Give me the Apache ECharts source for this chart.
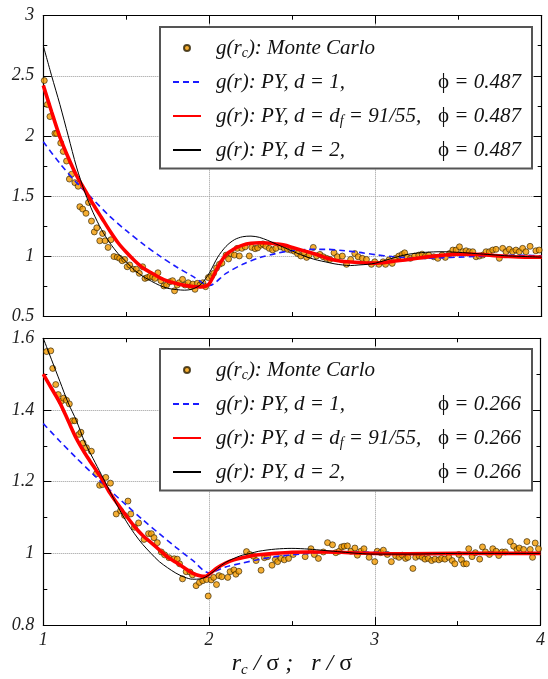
<!DOCTYPE html>
<html><head><meta charset="utf-8">
<script src="https://cdn.jsdelivr.net/npm/echarts@6/dist/echarts.min.js"></script>
<style>html,body{margin:0;padding:0;background:#fff}#c{width:548px;height:679px}</style>
</head><body><div id="c"></div>
<script>
// ---------------- DATA ----------------
// Top panel (phi = 0.487)
const topMC = [[1.006,2.46],[1.024,2.26],[1.04,2.16],[1.07,2.02],[1.08,2.02],[1.105,1.94],[1.12,1.87],[1.14,1.79],[1.157,1.64],[1.17,1.68],[1.19,1.61],[1.21,1.58],[1.22,1.41],[1.237,1.39],[1.257,1.355],[1.272,1.445],[1.29,1.29],[1.307,1.2],[1.322,1.234],[1.34,1.126],[1.357,1.187],[1.372,1.126],[1.39,1.071],[1.407,1.135],[1.425,0.995],[1.445,0.99],[1.46,0.98],[1.475,0.96],[1.49,0.97],[1.505,0.91],[1.52,0.925],[1.54,0.89],[1.56,0.89],[1.578,0.855],[1.598,0.91],[1.612,0.813],[1.626,0.82],[1.642,0.83],[1.658,0.825],[1.672,0.813],[1.69,0.86],[1.708,0.794],[1.726,0.75],[1.742,0.758],[1.762,0.785],[1.778,0.794],[1.79,0.71],[1.806,0.758],[1.818,0.777],[1.838,0.805],[1.853,0.758],[1.872,0.777],[1.887,0.744],[1.9,0.766],[1.913,0.722],[1.927,0.772],[1.943,0.758],[1.96,0.777],[1.977,0.744],[1.993,0.82],[2.013,0.83],[2.025,0.855],[2.043,0.9],[2.06,0.93],[2.075,0.94],[2.1,1.007],[2.115,0.975],[2.13,1.02],[2.15,1.007],[2.167,1.063],[2.18,1.0],[2.195,1.063],[2.215,1.076],[2.24,1.0],[2.255,1.071],[2.275,1.06],[2.29,1.067],[2.31,1.09],[2.322,1.1],[2.34,1.08],[2.36,1.063],[2.38,1.05],[2.4,1.063],[2.43,1.076],[2.45,1.063],[2.47,1.055],[2.49,1.049],[2.51,1.04],[2.53,1.02],[2.55,1.0],[2.57,1.026],[2.585,0.988],[2.6,1.007],[2.625,1.071],[2.645,1.0],[2.665,1.013],[2.685,0.993],[2.705,0.98],[2.725,0.971],[2.75,1.026],[2.77,0.993],[2.8,0.999],[2.825,0.93],[2.85,0.971],[2.875,1.02],[2.895,0.993],[2.92,0.98],[2.945,0.971],[2.975,0.93],[2.995,0.951],[3.02,0.93],[3.045,0.951],[3.06,0.93],[3.08,0.966],[3.1,0.938],[3.12,0.98],[3.14,0.999],[3.16,1.013],[3.175,1.026],[3.19,0.988],[3.21,0.98],[3.235,0.999],[3.26,1.007],[3.28,1.015],[3.3,0.999],[3.32,1.007],[3.35,0.993],[3.375,0.98],[3.4,1.007],[3.42,0.988],[3.445,1.02],[3.465,1.049],[3.485,1.049],[3.505,1.076],[3.525,1.035],[3.545,1.043],[3.565,1.035],[3.585,1.035],[3.605,0.993],[3.625,0.999],[3.645,1.007],[3.665,1.035],[3.685,1.035],[3.705,1.049],[3.725,1.055],[3.745,0.98],[3.765,1.063],[3.785,1.035],[3.805,1.055],[3.825,1.035],[3.845,1.049],[3.865,1.035],[3.885,1.063],[3.905,1.035],[3.93,1.08],[3.965,1.043],[3.985,1.049]];
const topPY1 = [[1.0,1.95],[1.1,1.77],[1.2,1.61],[1.3,1.47],[1.4,1.33],[1.5,1.21],[1.6,1.10],[1.7,1.00],[1.8,0.91],[1.9,0.83],[2.0,0.755],[2.1,0.855],[2.2,0.93],[2.3,0.985],[2.4,1.02],[2.5,1.045],[2.6,1.055],[2.7,1.055],[2.8,1.045],[2.9,1.03],[3.0,1.01],[3.1,0.995],[3.2,0.985],[3.3,0.98],[3.4,0.985],[3.5,0.99],[3.6,0.995],[3.7,1.0],[3.8,1.005],[3.9,1.005],[4.0,1.0]];
const topPYf = [[1.0,2.42],[1.05,2.2],[1.1,1.99],[1.15,1.82],[1.2,1.67],[1.25,1.55],[1.3,1.43],[1.35,1.32],[1.4,1.21],[1.45,1.11],[1.5,1.03],[1.55,0.96],[1.6,0.9],[1.65,0.86],[1.7,0.82],[1.75,0.79],[1.8,0.77],[1.85,0.755],[1.9,0.745],[1.95,0.742],[1.98,0.75],[2.0,0.77],[2.03,0.85],[2.06,0.93],[2.1,1.01],[2.15,1.06],[2.2,1.09],[2.25,1.105],[2.3,1.11],[2.35,1.108],[2.4,1.1],[2.45,1.09],[2.5,1.07],[2.55,1.05],[2.6,1.03],[2.65,1.01],[2.7,0.985],[2.75,0.967],[2.8,0.955],[2.85,0.95],[2.9,0.945],[2.95,0.94],[3.0,0.94],[3.05,0.945],[3.1,0.955],[3.2,0.97],[3.3,0.99],[3.4,1.005],[3.5,1.015],[3.6,1.013],[3.7,1.005],[3.8,0.995],[3.9,0.99],[4.0,0.99]];
const topPY2 = [[1.0,2.75],[1.05,2.5],[1.1,2.26],[1.15,2.0],[1.2,1.74],[1.25,1.53],[1.3,1.36],[1.35,1.22],[1.4,1.11],[1.45,1.02],[1.5,0.95],[1.55,0.88],[1.6,0.83],[1.65,0.79],[1.7,0.755],[1.75,0.73],[1.8,0.72],[1.85,0.715],[1.9,0.725],[1.95,0.765],[2.0,0.86],[2.05,0.99],[2.1,1.08],[2.15,1.135],[2.2,1.16],[2.25,1.165],[2.3,1.155],[2.35,1.13],[2.4,1.1],[2.45,1.07],[2.5,1.04],[2.55,1.01],[2.6,0.985],[2.65,0.965],[2.7,0.95],[2.75,0.935],[2.8,0.925],[2.85,0.92],[2.9,0.925],[2.95,0.93],[3.0,0.94],[3.05,0.96],[3.1,0.98],[3.15,1.0],[3.2,1.015],[3.3,1.03],[3.4,1.035],[3.5,1.03],[3.6,1.02],[3.7,1.01],[3.8,1.0],[3.9,0.995],[4.0,0.99]];
// Bottom panel (phi = 0.266)
const botMC = [[1.02,1.563],[1.045,1.565],[1.057,1.516],[1.075,1.471],[1.09,1.443],[1.107,1.424],[1.122,1.433],[1.14,1.427],[1.157,1.417],[1.177,1.37],[1.19,1.37],[1.215,1.332],[1.227,1.338],[1.24,1.308],[1.26,1.295],[1.29,1.285],[1.32,1.222],[1.34,1.19],[1.357,1.192],[1.377,1.212],[1.405,1.196],[1.44,1.11],[1.466,1.119],[1.49,1.106],[1.511,1.146],[1.528,1.11],[1.55,1.073],[1.575,1.085],[1.608,1.039],[1.635,1.055],[1.652,1.055],[1.668,1.044],[1.688,1.03],[1.712,1.004],[1.732,0.996],[1.758,0.988],[1.79,0.985],[1.808,0.984],[1.822,0.971],[1.84,0.929],[1.862,0.949],[1.885,0.948],[1.9,0.94],[1.922,0.91],[1.942,0.919],[1.962,0.924],[1.985,0.927],[1.995,0.881],[2.013,0.926],[2.028,0.933],[2.045,0.913],[2.06,0.938],[2.077,0.935],[2.113,0.933],[2.127,0.949],[2.15,0.954],[2.162,0.942],[2.18,0.95],[2.226,1.005],[2.246,0.997],[2.268,0.992],[2.284,0.98],[2.314,0.953],[2.334,0.988],[2.354,0.991],[2.38,0.967],[2.4,0.983],[2.414,0.977],[2.434,0.986],[2.454,0.982],[2.48,0.986],[2.508,0.997],[2.58,0.991],[2.615,1.013],[2.635,0.997],[2.66,0.986],[2.69,1.004],[2.715,1.03],[2.745,1.024],[2.765,1.002],[2.785,1.006],[2.8,1.018],[2.815,1.02],[2.835,1.021],[2.856,1.006],[2.88,1.015],[2.895,0.995],[2.916,1.006],[2.935,1.013],[2.966,0.989],[3.0,0.977],[3.015,1.006],[3.036,1.002],[3.052,1.009],[3.076,0.997],[3.1,0.977],[3.126,0.993],[3.146,0.989],[3.166,0.995],[3.186,0.986],[3.2,0.989],[3.23,0.958],[3.247,0.989],[3.267,0.993],[3.287,0.989],[3.303,0.984],[3.323,0.986],[3.343,0.98],[3.363,0.984],[3.387,0.982],[3.403,0.986],[3.423,0.984],[3.447,0.989],[3.467,0.98],[3.483,0.971],[3.507,0.997],[3.523,0.982],[3.537,0.971],[3.553,0.971],[3.567,1.013],[3.587,0.991],[3.607,1.002],[3.633,0.984],[3.65,1.018],[3.668,1.004],[3.692,0.997],[3.712,1.013],[3.732,1.006],[3.748,0.994],[3.768,1.004],[3.788,1.004],[3.818,1.033],[3.838,1.02],[3.858,1.011],[3.872,1.015],[3.898,1.011],[3.918,1.033],[3.938,1.011],[3.952,0.989],[3.968,1.029],[3.988,1.013]];
const botPY1 = [[1.0,1.362],[1.1,1.313],[1.2,1.266],[1.3,1.221],[1.4,1.177],[1.5,1.135],[1.6,1.094],[1.7,1.055],[1.8,1.017],[1.9,0.981],[2.0,0.946],[2.1,0.962],[2.2,0.973],[2.3,0.983],[2.4,0.991],[2.5,0.996],[2.6,1.0],[2.7,1.003],[2.8,1.004],[2.9,1.004],[3.0,1.003],[3.2,1.001],[3.5,1.0],[4.0,1.0]];
const botPYf = [[1.0,1.5],[1.05,1.46],[1.1,1.42],[1.15,1.37],[1.2,1.32],[1.25,1.28],[1.3,1.245],[1.35,1.21],[1.4,1.17],[1.45,1.137],[1.5,1.105],[1.55,1.075],[1.6,1.05],[1.65,1.03],[1.7,1.01],[1.75,0.99],[1.8,0.975],[1.85,0.96],[1.9,0.945],[1.95,0.937],[1.98,0.936],[2.0,0.942],[2.05,0.96],[2.1,0.973],[2.15,0.982],[2.2,0.988],[2.25,0.993],[2.3,0.996],[2.4,1.0],[2.5,1.003],[2.6,1.004],[2.7,1.004],[2.8,1.003],[2.9,1.001],[3.0,1.0],[3.2,0.999],[3.5,1.0],[4.0,1.0]];
const botPY2 = [[1.0,1.6],[1.05,1.54],[1.1,1.48],[1.15,1.42],[1.2,1.37],[1.25,1.31],[1.3,1.265],[1.35,1.22],[1.4,1.175],[1.45,1.13],[1.5,1.09],[1.55,1.055],[1.6,1.025],[1.65,1.0],[1.7,0.977],[1.75,0.96],[1.8,0.945],[1.85,0.934],[1.9,0.928],[1.95,0.929],[2.0,0.94],[2.05,0.958],[2.1,0.975],[2.15,0.986],[2.2,0.995],[2.25,1.0],[2.3,1.006],[2.4,1.012],[2.5,1.014],[2.6,1.012],[2.7,1.008],[2.8,1.004],[2.9,1.0],[3.0,0.998],[3.2,0.998],[3.5,1.0],[4.0,1.0]];
const phiTop = '0.487';
const phiBot = '0.266';
const xTicks = {min: 1, max: 4, interval: 1};
const yTopTicks = {min: 0.5, max: 3, interval: 0.5};
const yBotTicks = {min: 0.8, max: 1.6, interval: 0.2};

// ---------------- STYLE / LAYOUT ----------------
const serif = '"Liberation Serif","Times New Roman",serif';
const ctx = document.createElement('canvas').getContext('2d');
function tw(txt, size, italic) { ctx.font = (italic ? 'italic ' : '') + size + 'px ' + serif; return ctx.measureText(txt).width; }
const LF = 21, SF = 14, COLA = 222, COLB = 84;
const wDf = COLA - tw('g(r): PY, d = d', LF, true) - tw('f', SF, true);
const wPhi = COLB - tw('ϕ', LF, false);
const rich = {
  sp: {width: 10, fontSize: LF, lineHeight: 26, fontFamily: serif},
  t: {fontFamily: serif, fontStyle: 'italic', fontSize: LF, lineHeight: 26, color: '#111'},
  a: {fontFamily: serif, fontStyle: 'italic', fontSize: LF, lineHeight: 26, color: '#111', width: COLA},
  af: {fontFamily: serif, fontStyle: 'italic', fontSize: LF, lineHeight: 26, color: '#111', width: wDf},
  s: {fontFamily: serif, fontStyle: 'italic', fontSize: SF, lineHeight: 16, padding: [11, 0, 0, 0], color: '#111'},
  p: {fontFamily: serif, fontSize: LF, lineHeight: 26, color: '#111'},
  b: {fontFamily: serif, fontStyle: 'italic', fontSize: LF, lineHeight: 26, color: '#111', width: wPhi}
};
function legendLabel(name) {
  const kind = name.split(' ')[0];
  const phi = name.split(' ')[1] === 'A' ? phiTop : phiBot;
  const phiPart = '{p|ϕ}{b| = ' + phi + '}';
  if (kind === 'MC') return '{sp| }{t|g(r}{s|c}{t|): Monte Carlo}';
  if (kind === 'PY1') return '{sp| }{a|g(r): PY, d = 1,}' + phiPart;
  if (kind === 'PYf') return '{sp| }{t|g(r): PY, d = d}{s|f}{af| = 91/55,}' + phiPart;
  return '{sp| }{a|g(r): PY, d = 2,}' + phiPart;
}
const hideSym = {itemStyle: {opacity: 0, color: 'rgba(0,0,0,0)', borderWidth: 0}};
function mkLegend(suffix, top) {
  return {
    orient: 'vertical', left: 160, top: top, padding: [8.5, 10, 8, 12],
    itemWidth: 28, itemHeight: 6, itemGap: 11,
    backgroundColor: '#fff', borderColor: '#555', borderWidth: 2,
    selectedMode: false, formatter: legendLabel,
    textStyle: {rich: rich},
    data: [{name: 'MC ' + suffix}, Object.assign({name: 'PY1 ' + suffix}, hideSym),
           Object.assign({name: 'PYf ' + suffix}, hideSym), Object.assign({name: 'PY2 ' + suffix}, hideSym)]
  };
}
const lab = {fontFamily: serif, fontStyle: 'italic', fontSize: 18, color: '#222'};
const axLine = {show: true, lineStyle: {color: '#000', width: 1.2}};
const tick = {show: true, inside: true, length: 8, lineStyle: {color: '#000', width: 1}};
const mtick = {show: true, splitNumber: 2, length: 4, lineStyle: {color: '#000', width: 1}};
const grid = {show: true, lineStyle: {color: '#999', type: 'dotted', width: 1}};
function xAx(gi, pos, showLab, extra) {
  return Object.assign({type: 'value', gridIndex: gi, position: pos, min: xTicks.min, max: xTicks.max, interval: xTicks.interval,
    axisLine: axLine, axisTick: tick, minorTick: mtick, splitLine: pos === 'bottom' ? grid : {show: false},
    axisLabel: Object.assign({show: showLab, margin: 6}, lab)}, extra || {});
}
function yAx(gi, pos, t) {
  return {type: 'value', gridIndex: gi, position: pos, min: t.min, max: t.max, interval: t.interval,
    axisLine: axLine, axisTick: tick, minorTick: mtick, splitLine: pos === 'left' ? grid : {show: false},
    axisLabel: Object.assign({show: pos === 'left', margin: 9}, lab)};
}
const mcStyle = {color: '#f29a00', borderColor: '#2a1e00', borderWidth: 0.8};
function series(xi, yi, suffix, mc, p1, pf, p2) {
  return [
    {name: 'MC ' + suffix, type: 'scatter', xAxisIndex: xi, yAxisIndex: yi, data: mc, symbolSize: 6, itemStyle: mcStyle, z: 2},
    {name: 'PY1 ' + suffix, type: 'line', xAxisIndex: xi, yAxisIndex: yi, data: p1, symbol: 'none', showSymbol: false, smooth: 0.3,
      lineStyle: {color: '#1a1aff', width: 1.6, type: [6, 4]}, itemStyle: {color: '#1a1aff'}, z: 3},
    {name: 'PYf ' + suffix, type: 'line', xAxisIndex: xi, yAxisIndex: yi, data: pf, symbol: 'none', showSymbol: false, smooth: 0.3,
      lineStyle: {color: '#ff0000', width: 3.6}, itemStyle: {color: '#ff0000'}, z: 4},
    {name: 'PY2 ' + suffix, type: 'line', xAxisIndex: xi, yAxisIndex: yi, data: p2, symbol: 'none', showSymbol: false, smooth: 0.3,
      lineStyle: {color: '#000', width: 1}, itemStyle: {color: '#000'}, z: 5}
  ];
}
const option = {
  animation: false,
  backgroundColor: '#fff',
  grid: [
    {left: 43.3, top: 15.7, width: 498.4, height: 300.3, show: false},
    {left: 43.3, top: 338.3, width: 498.4, height: 301, show: false}
  ],
  xAxis: [
    xAx(0, 'bottom', false),
    xAx(0, 'top', false),
    xAx(1, 'bottom', true, {
      name: '{i|r}{s|c}{i| / }{n|σ}{i| ;   r / }{n|σ}', nameLocation: 'middle', nameGap: 23,
      nameTextStyle: {rich: {
        i: {fontFamily: serif, fontStyle: 'italic', fontSize: 24, lineHeight: 28, color: '#111'},
        s: {fontFamily: serif, fontStyle: 'italic', fontSize: 15, lineHeight: 16, padding: [13, 0, 0, 0], color: '#111'},
        n: {fontFamily: serif, fontSize: 24, lineHeight: 28, color: '#111'}
      }}
    }),
    xAx(1, 'top', false)
  ],
  yAxis: [yAx(0, 'left', yTopTicks), yAx(0, 'right', yTopTicks), yAx(1, 'left', yBotTicks), yAx(1, 'right', yBotTicks)],
  legend: [mkLegend('A', 27), mkLegend('B', 349)],
  series: [].concat(series(0, 0, 'A', topMC, topPY1, topPYf, topPY2), series(2, 2, 'B', botMC, botPY1, botPYf, botPY2))
};
const chart = echarts.init(document.getElementById('c'), null, {renderer: 'canvas'});
chart.setOption(option);
</script></body></html>
